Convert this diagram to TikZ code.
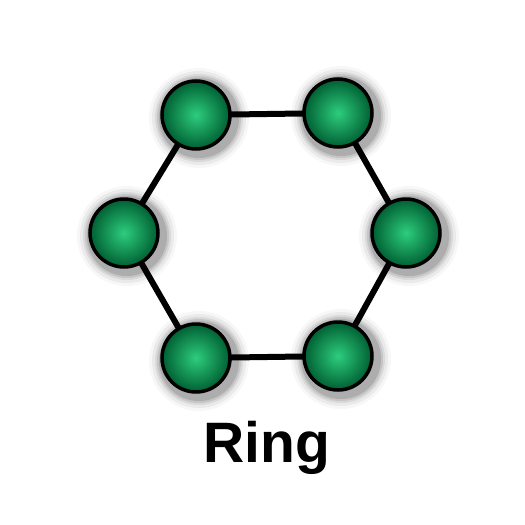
\documentclass[tikz,border=0pt]{standalone}
\usepackage{fontspec}
\setmainfont{Liberation Sans}
\begin{document}
\begin{tikzpicture}[x=1pt,y=-1pt,
  ball/.style={circle,minimum size=68pt,inner sep=0pt,draw=black,line width=3.5pt,
    inner color={rgb,255:red,45;green,205;blue,125},outer color={rgb,255:red,0;green,95;blue,50}},
  link/.style={line width=6pt,black}]
\useasboundingbox (0,0) rectangle (525,525);
\fill[white] (0,0) rectangle (525,525);
\foreach \cx/\cy in {196/115,338/113,124/233,406/233,196/358,338/356}{
  \foreach \r/\o in {50/0.03,47/0.05,44/0.07,42/0.09,40/0.12}{
    \fill[black,opacity=\o] (\cx+3,\cy+3) circle (\r);
  }
}
\coordinate (pa) at (196,115);
\coordinate (pb) at (338,113);
\coordinate (pc) at (406,233);
\coordinate (pd) at (338,356);
\coordinate (pe) at (196,358);
\coordinate (pf) at (124,233);
\draw[link] (pa) -- (pb) -- (pc) -- (pd) -- (pe) -- (pf) -- cycle;
\foreach \n in {a,b,c,d,e,f}{
  \node[ball] (n\n) at (p\n) {};
}
\node[font=\bfseries\fontsize{57}{62}\selectfont,anchor=base] (lbl) at (267,462) {Ring};
\end{tikzpicture}
\end{document}
